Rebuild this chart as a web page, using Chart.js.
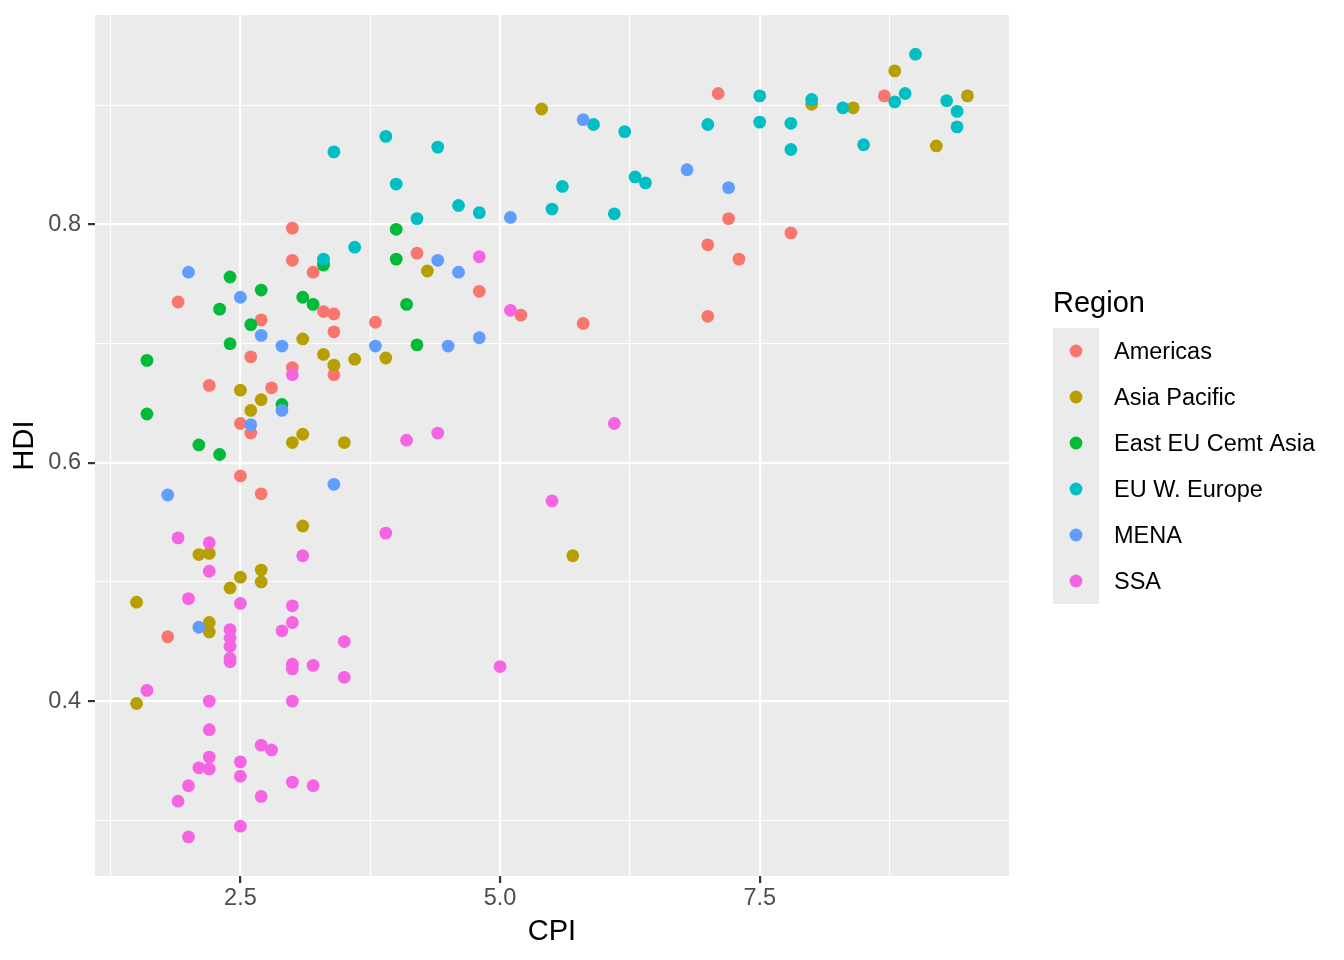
<!DOCTYPE html>
<html>
<head>
<meta charset="utf-8">
<script src="https://cdn.jsdelivr.net/npm/chart.js@4.4.1/dist/chart.umd.min.js"></script>
<style>
  html, body { margin: 0; padding: 0; background: #fff; }
  #chart { display: block; }
</style>
</head>
<body>
<canvas id="chart" width="1344" height="960"></canvas>
<script>
const regions = ['Americas', 'Asia Pacific', 'East EU Cemt Asia', 'EU W. Europe', 'MENA', 'SSA'];
const regionColors = ['#F8766D', '#B79F00', '#00BA38', '#00BFC4', '#619CFF', '#F564E3'];

// CPI (x) and HDI (y) per region
const americasCPI = [3.0, 4.2, 3.0, 3.3, 3.2, 1.9, 3.3, 3.4, 3.8, 2.7, 3.4, 2.6, 3.0, 3.4, 2.2, 2.8, 2.5, 2.6, 2.5, 2.7, 1.8, 4.8, 5.2, 5.8, 7.1, 8.7, 7.2, 7.8, 7.0, 7.3, 7.0];
const americasHDI = [0.797, 0.776, 0.770, 0.768, 0.760, 0.735, 0.727, 0.725, 0.718, 0.720, 0.710, 0.689, 0.680, 0.674, 0.665, 0.663, 0.633, 0.625, 0.589, 0.574, 0.454, 0.744, 0.724, 0.717, 0.910, 0.908, 0.805, 0.793, 0.783, 0.771, 0.723];

const asiaCPI = [4.3, 3.1, 3.3, 3.6, 3.9, 3.4, 2.5, 2.7, 2.6, 3.1, 3.0, 3.5, 3.1, 2.1, 2.2, 2.7, 2.5, 2.7, 2.4, 1.5, 2.2, 2.2, 1.5, 5.7, 5.4, 8.8, 8.0, 8.4, 9.5, 9.2];
const asiaHDI = [0.761, 0.704, 0.691, 0.687, 0.688, 0.682, 0.661, 0.653, 0.644, 0.624, 0.617, 0.617, 0.547, 0.523, 0.524, 0.510, 0.504, 0.500, 0.495, 0.483, 0.466, 0.458, 0.398, 0.522, 0.897, 0.929, 0.901, 0.898, 0.908, 0.866];

const eastEuCPI = [4.0, 4.0, 3.3, 2.4, 2.7, 3.1, 3.2, 4.1, 2.3, 2.6, 2.4, 4.2, 1.6, 2.9, 1.6, 2.1, 2.3];
const eastEuHDI = [0.796, 0.771, 0.766, 0.756, 0.745, 0.739, 0.733, 0.733, 0.729, 0.716, 0.700, 0.699, 0.686, 0.649, 0.641, 0.615, 0.607];

const westEuCPI = [3.3, 3.6, 4.2, 3.9, 3.4, 4.4, 4.0, 5.6, 6.3, 6.4, 4.6, 4.8, 5.5, 6.1, 5.9, 6.2, 9.0, 7.5, 8.0, 8.3, 8.9, 8.8, 9.3, 9.4, 9.4, 7.0, 7.5, 7.8, 7.8, 8.5];
const westEuHDI = [0.771, 0.781, 0.805, 0.874, 0.861, 0.865, 0.834, 0.832, 0.840, 0.835, 0.816, 0.810, 0.813, 0.809, 0.884, 0.878, 0.943, 0.908, 0.905, 0.898, 0.910, 0.903, 0.904, 0.895, 0.882, 0.884, 0.886, 0.885, 0.863, 0.867];

const menaCPI = [2.0, 2.5, 2.7, 2.9, 3.8, 2.9, 2.6, 3.4, 1.8, 2.1, 4.4, 4.6, 4.5, 4.8, 5.1, 5.8, 6.8, 7.2];
const menaHDI = [0.760, 0.739, 0.707, 0.698, 0.698, 0.644, 0.632, 0.582, 0.573, 0.462, 0.770, 0.760, 0.698, 0.705, 0.806, 0.888, 0.846, 0.831];

const ssaCPI = [3.0, 4.1, 4.4, 6.1, 4.8, 5.1, 5.5, 3.9, 1.9, 2.2, 3.1, 2.2, 2.0, 2.5, 3.0, 3.0, 2.9, 2.4, 2.4, 2.4, 2.4, 2.4, 3.5, 3.0, 3.0, 3.2, 3.5, 1.6, 2.2, 3.0, 5.0, 2.2, 2.7, 2.8, 2.2, 2.5, 2.1, 2.2, 2.5, 3.0, 3.2, 2.0, 2.7, 1.9, 2.5, 2.0];
const ssaHDI = [0.674, 0.619, 0.625, 0.633, 0.773, 0.728, 0.568, 0.541, 0.537, 0.533, 0.522, 0.509, 0.486, 0.482, 0.480, 0.466, 0.459, 0.460, 0.453, 0.446, 0.436, 0.433, 0.450, 0.431, 0.427, 0.430, 0.420, 0.409, 0.400, 0.400, 0.429, 0.376, 0.363, 0.359, 0.353, 0.349, 0.344, 0.343, 0.337, 0.332, 0.329, 0.329, 0.320, 0.316, 0.295, 0.286];

// gridline positions; empty label = minor line
const xTicks = [1.25, 2.5, 3.75, 5, 6.25, 7.5, 8.75];
const xTickLabels = ['', '2.5', '', '5.0', '', '7.5', ''];
const yTicks = [0.3, 0.4, 0.5, 0.6, 0.7, 0.8, 0.9];
const yTickLabels = ['', '0.4', '', '0.6', '', '0.8', ''];

const cpiLists = [americasCPI, asiaCPI, eastEuCPI, westEuCPI, menaCPI, ssaCPI];
const hdiLists = [americasHDI, asiaHDI, eastEuHDI, westEuHDI, menaHDI, ssaHDI];

Chart.defaults.font.family = '"Liberation Sans", Arial, Helvetica, sans-serif';

const POINT_R = 6.4;

const datasets = regions.map((name, i) => ({
    label: name,
    data: cpiLists[i].map((x, j) => ({ x: x, y: hdiLists[i][j] })),
    backgroundColor: regionColors[i],
    pointRadius: POINT_R,
    pointHoverRadius: POINT_R,
    pointBorderWidth: 0,
    order: regions.length - i
}));

// grey panel behind the grid
const panelBg = {
    id: 'panelBg',
    beforeDraw(chart) {
        const { ctx, chartArea: a } = chart;
        ctx.save();
        ctx.fillStyle = '#EBEBEB';
        ctx.fillRect(a.left, a.top, a.right - a.left, a.bottom - a.top);
        ctx.restore();
    }
};

// ggplot-style legend on the right
const regionLegend = {
    id: 'regionLegend',
    afterDraw(chart) {
        const ctx = chart.ctx;
        const left = 1053, keySize = 46, top = 328;
        ctx.save();
        ctx.fillStyle = '#000';
        ctx.textBaseline = 'middle';
        ctx.textAlign = 'left';
        ctx.font = '29px "Liberation Sans", Arial, sans-serif';
        ctx.fillText('Region', left, 303.5);

        ctx.fillStyle = '#EBEBEB';
        ctx.fillRect(left, top, keySize, keySize * regions.length);

        ctx.font = '23.5px "Liberation Sans", Arial, sans-serif';
        regions.forEach((name, i) => {
            const cy = top + keySize * i + keySize / 2;
            ctx.fillStyle = regionColors[i];
            ctx.beginPath();
            ctx.arc(left + keySize / 2, cy, POINT_R, 0, Math.PI * 2);
            ctx.fill();
            ctx.fillStyle = '#000';
            ctx.fillText(name, 1114, cy + 2);
        });
        ctx.restore();
    }
};

function gridOpts(labels) {
    return {
        color: '#FFFFFF',
        lineWidth: ctx => (labels[ctx.index] ? 2.2 : 1.1),
        drawTicks: true,
        tickLength: 7,
        tickWidth: 2.2,
        tickColor: ctx => (labels[ctx.index] ? '#333333' : 'rgba(0,0,0,0)')
    };
}

try {
    new Chart(document.getElementById('chart'), {
        type: 'scatter',
        data: { datasets: datasets },
        options: {
            responsive: false,
            animation: false,
            events: [],
            layout: {
                autoPadding: false,
                padding: { left: 0, top: 15, right: 335, bottom: 0 }
            },
            plugins: {
                legend: { display: false },
                tooltip: { enabled: false }
            },
            scales: {
                x: {
                    type: 'linear',
                    min: 1.1,
                    max: 9.9,
                    afterBuildTicks: scale => { scale.ticks = xTicks.map(v => ({ value: v })); },
                    afterFit: scale => {
                        scale.height = 84;
                        scale.paddingLeft = 0;
                        scale.paddingRight = 0;
                    },
                    border: { display: false },
                    grid: gridOpts(xTickLabels),
                    ticks: {
                        autoSkip: false,
                        maxRotation: 0,
                        padding: 1,
                        color: '#4D4D4D',
                        font: { size: 23.5 },
                        callback: (v, i) => xTickLabels[i]
                    },
                    title: {
                        display: true,
                        text: 'CPI',
                        color: '#000',
                        font: { size: 29 },
                        padding: { top: 0, bottom: 11 }
                    }
                },
                y: {
                    type: 'linear',
                    min: 0.2532,
                    max: 0.9759,
                    afterBuildTicks: scale => { scale.ticks = yTicks.map(v => ({ value: v })); },
                    afterFit: scale => {
                        scale.width = 95;
                        scale.paddingTop = 0;
                        scale.paddingBottom = 0;
                    },
                    border: { display: false },
                    grid: gridOpts(yTickLabels),
                    ticks: {
                        autoSkip: false,
                        padding: 7,
                        color: '#4D4D4D',
                        font: { size: 23.5 },
                        callback: (v, i) => yTickLabels[i]
                    },
                    title: {
                        display: true,
                        text: 'HDI',
                        color: '#000',
                        font: { size: 29 },
                        padding: { top: 8, bottom: 0 }
                    }
                }
            }
        },
        plugins: [panelBg, regionLegend]
    });
} catch (error) {
    console.error(error.message);
}
</script>
</body>
</html>
